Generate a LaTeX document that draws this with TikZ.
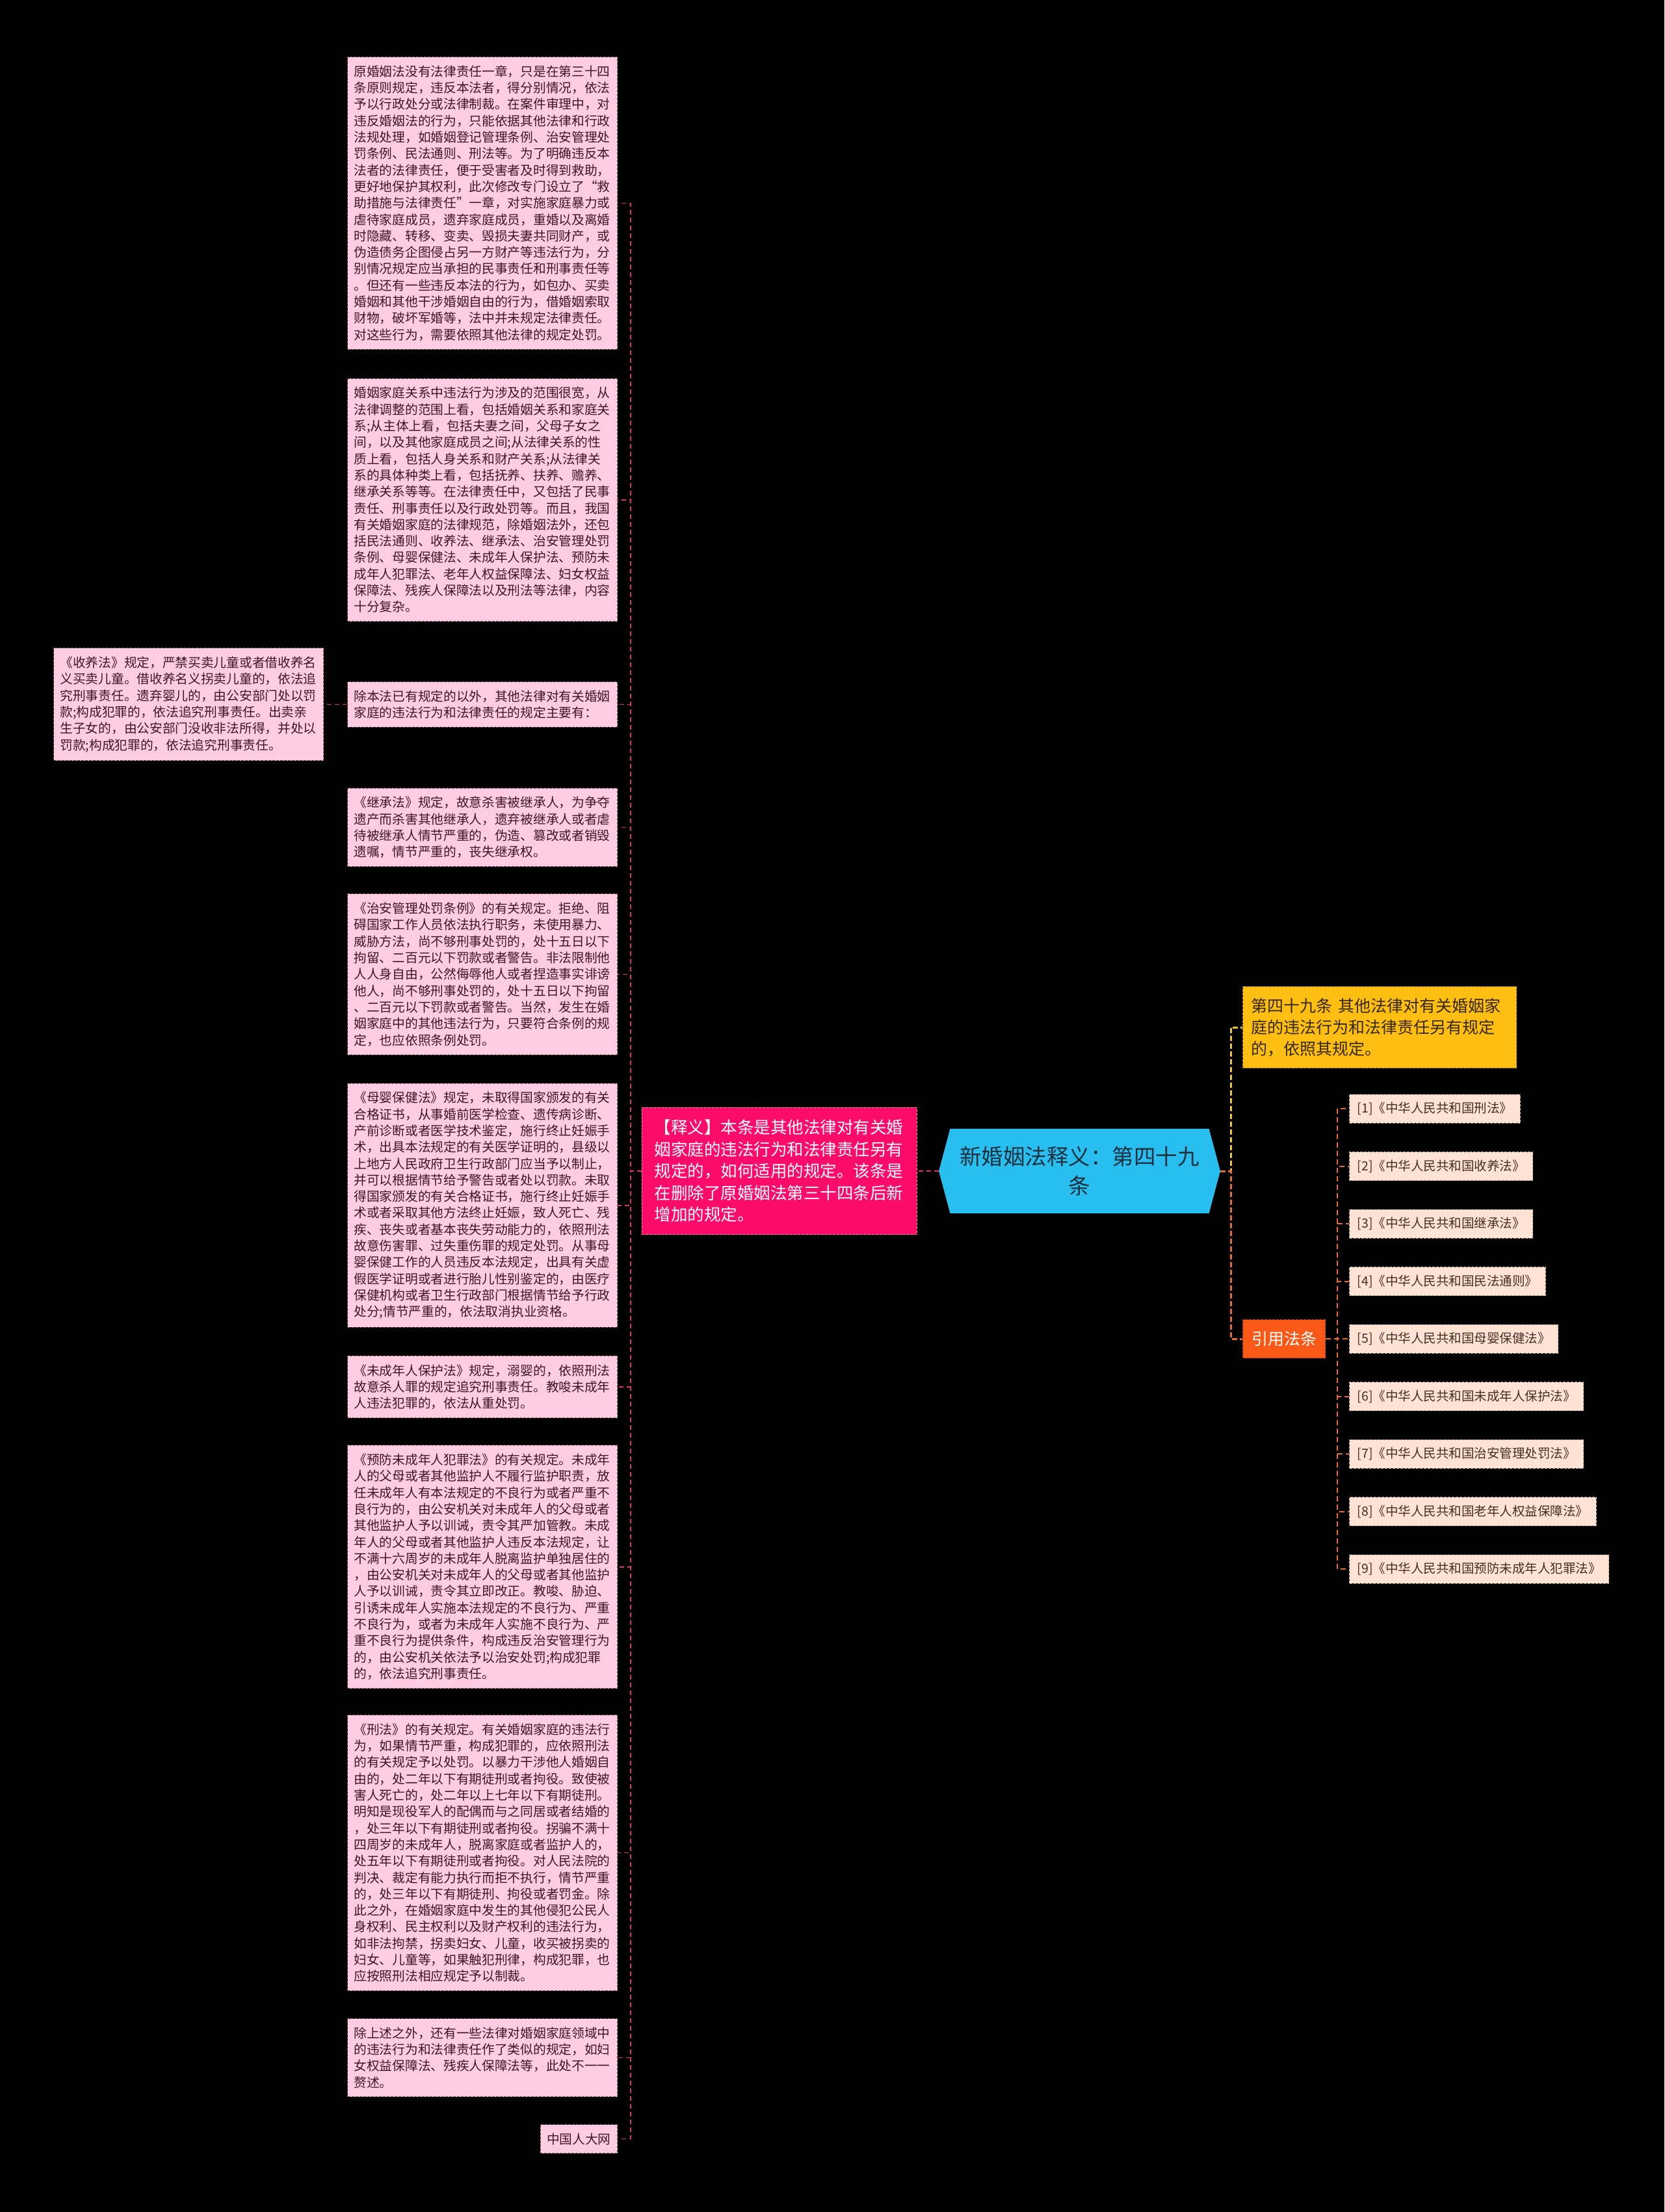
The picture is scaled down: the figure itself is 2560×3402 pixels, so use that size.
\documentclass[tikz,border=0pt]{standalone}
\usepackage{fontspec}
\setmainfont{Noto Sans CJK SC}
\usetikzlibrary{positioning, shapes.symbols}
\definecolor{colBg}{RGB}{0,0,0}
\definecolor{colLeaf}{RGB}{255,204,226}
\definecolor{colLeafText}{RGB}{62,22,40}
\definecolor{colLeafBorder}{RGB}{120,85,100}
\definecolor{colNote}{RGB}{250,12,104}
\definecolor{colNoteBorder}{RGB}{255,120,170}
\definecolor{colRoot}{RGB}{41,190,240}
\definecolor{colRootText}{RGB}{28,48,62}
\definecolor{colLaw}{RGB}{253,190,18}
\definecolor{colLawText}{RGB}{55,40,15}
\definecolor{colCite}{RGB}{250,88,22}
\definecolor{colRef}{RGB}{252,227,212}
\definecolor{colRefText}{RGB}{70,45,35}
\definecolor{colRefBorder}{RGB}{190,160,150}
\definecolor{colLinkL}{RGB}{225,45,105}
\definecolor{colLinkY}{RGB}{242,200,40}
\definecolor{colLinkO}{RGB}{235,105,45}
\tikzset{
  box/.style={
    rectangle, line width=1pt, dash pattern=on 4pt off 2pt,
    align=left
  },
  leafBase/.style={
    box, fill=colLeaf, draw=colLeafBorder, text=colLeafText,
    font=\fontsize{19.7pt}{25.3pt}\selectfont,
    inner xsep=10pt, inner ysep=13pt
  },
  leaf/.style={
    leafBase, text width=395pt
  },
  noteBox/.style={
    box, fill=colNote, draw=colNoteBorder, text=white,
    font=\fontsize{25.5pt}{33.5pt}\selectfont,
    text width=384pt, inner xsep=19.5pt, inner ysep=19pt
  },
  rootBox/.style={
    signal, signal to=west and east, signal pointer angle=150,
    fill=colRoot, text=colRootText, align=center,
    font=\fontsize{33.5pt}{45pt}\selectfont,
    text width=372pt, minimum width=433pt, minimum height=130pt
  },
  lawBox/.style={
    box, fill=colLaw, draw=colLaw!70!black, text=colLawText,
    font=\fontsize{25pt}{33pt}\selectfont,
    text width=395pt, inner xsep=13pt, inner ysep=18pt
  },
  citeBox/.style={
    box, fill=colCite, draw=colCite!70!black, text=white,
    font=\fontsize{25pt}{30pt}\selectfont,
    inner xsep=13.5pt, minimum height=59pt
  },
  refBox/.style={
    box, fill=colRef, draw=colRefBorder, text=colRefText,
    font=\fontsize{19.5pt}{24pt}\selectfont,
    inner xsep=12pt, minimum height=44pt
  },
  linkL/.style={
    draw=colLinkL, line width=1.6pt, dash pattern=on 7pt off 5pt
  },
  linkY/.style={
    draw=colLinkY, line width=3pt, dash pattern=on 8pt off 4pt
  },
  linkO/.style={
    draw=colLinkO, line width=3pt, dash pattern=on 8pt off 4pt
  },
  linkR/.style={
    draw=colLinkO, line width=2pt, dash pattern=on 8pt off 5pt
  }
}

\begin{document}
\begin{tikzpicture}[x=1pt, y=-1pt]

\fill[colBg] (0,0) rectangle (2560,3402);
\useasboundingbox (0,0) rectangle (2560,3402);

%% ==============================================================
%% Centre
%% ==============================================================

\node[rootBox] (root) at (1660.5,1801) {新婚姻法释义：第四十九\\条};

\node[noteBox, left=33pt of root] (shiyi) {
  【释义】本条是其他法律对有关婚\\
  姻家庭的违法行为和法律责任另有\\
  规定的，如何适用的规定。该条是\\
  在删除了原婚姻法第三十四条后新\\
  增加的规定。
};

%% ==============================================================
%% Left column
%% ==============================================================

\node[leaf, anchor=north east] (b1) at (950,87) {
  原婚姻法没有法律责任一章，只是在第三十四\\
  条原则规定，违反本法者，得分别情况，依法\\
  予以行政处分或法律制裁。在案件审理中，对\\
  违反婚姻法的行为，只能依据其他法律和行政\\
  法规处理，如婚姻登记管理条例、治安管理处\\
  罚条例、民法通则、刑法等。为了明确违反本\\
  法者的法律责任，便于受害者及时得到救助，\\
  更好地保护其权利，此次修改专门设立了“救\\
  助措施与法律责任”一章，对实施家庭暴力或\\
  虐待家庭成员，遗弃家庭成员，重婚以及离婚\\
  时隐藏、转移、变卖、毁损夫妻共同财产，或\\
  伪造债务企图侵占另一方财产等违法行为，分\\
  别情况规定应当承担的民事责任和刑事责任等\\
  。但还有一些违反本法的行为，如包办、买卖\\
  婚姻和其他干涉婚姻自由的行为，借婚姻索取\\
  财物，破坏军婚等，法中并未规定法律责任。\\
  对这些行为，需要依照其他法律的规定处罚。
};

\node[leaf, below=44pt of b1] (b2) {
  婚姻家庭关系中违法行为涉及的范围很宽，从\\
  法律调整的范围上看，包括婚姻关系和家庭关\\
  系;从主体上看，包括夫妻之间，父母子女之\\
  间，以及其他家庭成员之间;从法律关系的性\\
  质上看，包括人身关系和财产关系;从法律关\\
  系的具体种类上看，包括抚养、扶养、赡养、\\
  继承关系等等。在法律责任中，又包括了民事\\
  责任、刑事责任以及行政处罚等。而且，我国\\
  有关婚姻家庭的法律规范，除婚姻法外，还包\\
  括民法通则、收养法、继承法、治安管理处罚\\
  条例、母婴保健法、未成年人保护法、预防未\\
  成年人犯罪法、老年人权益保障法、妇女权益\\
  保障法、残疾人保障法以及刑法等法律，内容\\
  十分复杂。
};

\node[leaf, below=92pt of b2] (b3) {
  除本法已有规定的以外，其他法律对有关婚姻\\
  家庭的违法行为和法律责任的规定主要有：
};

\node[leaf, left=36pt of b3] (sy) {
  《收养法》规定，严禁买卖儿童或者借收养名\\
  义买卖儿童。借收养名义拐卖儿童的，依法追\\
  究刑事责任。遗弃婴儿的，由公安部门处以罚\\
  款;构成犯罪的，依法追究刑事责任。出卖亲\\
  生子女的，由公安部门没收非法所得，并处以\\
  罚款;构成犯罪的，依法追究刑事责任。
};

\node[leaf, below=93pt of b3] (b4) {
  《继承法》规定，故意杀害被继承人，为争夺\\
  遗产而杀害其他继承人，遗弃被继承人或者虐\\
  待被继承人情节严重的，伪造、篡改或者销毁\\
  遗嘱，情节严重的，丧失继承权。
};

\node[leaf, below=41pt of b4] (b5) {
  《治安管理处罚条例》的有关规定。拒绝、阻\\
  碍国家工作人员依法执行职务，未使用暴力、\\
  威胁方法，尚不够刑事处罚的，处十五日以下\\
  拘留、二百元以下罚款或者警告。非法限制他\\
  人人身自由，公然侮辱他人或者捏造事实诽谤\\
  他人，尚不够刑事处罚的，处十五日以下拘留\\
  、二百元以下罚款或者警告。当然，发生在婚\\
  姻家庭中的其他违法行为，只要符合条例的规\\
  定，也应依照条例处罚。
};

\node[leaf, below=43pt of b5] (b6) {
  《母婴保健法》规定，未取得国家颁发的有关\\
  合格证书，从事婚前医学检查、遗传病诊断、\\
  产前诊断或者医学技术鉴定，施行终止妊娠手\\
  术，出具本法规定的有关医学证明的，县级以\\
  上地方人民政府卫生行政部门应当予以制止，\\
  并可以根据情节给予警告或者处以罚款。未取\\
  得国家颁发的有关合格证书，施行终止妊娠手\\
  术或者采取其他方法终止妊娠，致人死亡、残\\
  疾、丧失或者基本丧失劳动能力的，依照刑法\\
  故意伤害罪、过失重伤罪的规定处罚。从事母\\
  婴保健工作的人员违反本法规定，出具有关虚\\
  假医学证明或者进行胎儿性别鉴定的，由医疗\\
  保健机构或者卫生行政部门根据情节给予行政\\
  处分;情节严重的，依法取消执业资格。
};

\node[leaf, below=43pt of b6] (b7) {
  《未成年人保护法》规定，溺婴的，依照刑法\\
  故意杀人罪的规定追究刑事责任。教唆未成年\\
  人违法犯罪的，依法从重处罚。
};

\node[leaf, below=41pt of b7] (b8) {
  《预防未成年人犯罪法》的有关规定。未成年\\
  人的父母或者其他监护人不履行监护职责，放\\
  任未成年人有本法规定的不良行为或者严重不\\
  良行为的，由公安机关对未成年人的父母或者\\
  其他监护人予以训诫，责令其严加管教。未成\\
  年人的父母或者其他监护人违反本法规定，让\\
  不满十六周岁的未成年人脱离监护单独居住的\\
  ，由公安机关对未成年人的父母或者其他监护\\
  人予以训诫，责令其立即改正。教唆、胁迫、\\
  引诱未成年人实施本法规定的不良行为、严重\\
  不良行为，或者为未成年人实施不良行为、严\\
  重不良行为提供条件，构成违反治安管理行为\\
  的，由公安机关依法予以治安处罚;构成犯罪\\
  的，依法追究刑事责任。
};

\node[leaf, below=40pt of b8] (b9) {
  《刑法》的有关规定。有关婚姻家庭的违法行\\
  为，如果情节严重，构成犯罪的，应依照刑法\\
  的有关规定予以处罚。以暴力干涉他人婚姻自\\
  由的，处二年以下有期徒刑或者拘役。致使被\\
  害人死亡的，处二年以上七年以下有期徒刑。\\
  明知是现役军人的配偶而与之同居或者结婚的\\
  ，处三年以下有期徒刑或者拘役。拐骗不满十\\
  四周岁的未成年人，脱离家庭或者监护人的，\\
  处五年以下有期徒刑或者拘役。对人民法院的\\
  判决、裁定有能力执行而拒不执行，情节严重\\
  的，处三年以下有期徒刑、拘役或者罚金。除\\
  此之外，在婚姻家庭中发生的其他侵犯公民人\\
  身权利、民主权利以及财产权利的违法行为，\\
  如非法拘禁，拐卖妇女、儿童，收买被拐卖的\\
  妇女、儿童等，如果触犯刑律，构成犯罪，也\\
  应按照刑法相应规定予以制裁。
};

\node[leaf, below=42pt of b9] (b10) {
  除上述之外，还有一些法律对婚姻家庭领域中\\
  的违法行为和法律责任作了类似的规定，如妇\\
  女权益保障法、残疾人保障法等，此处不一一\\
  赘述。
};

\node[leafBase, below left=42pt and 0pt of b10.south east] (b11) {中国人大网};

%% ==============================================================
%% Right side
%% ==============================================================

\node[lawBox, above right=221pt and 34pt of root.east, anchor=west] (law) {
  第四十九条 其他法律对有关婚姻家\\
  庭的违法行为和法律责任另有规定\\
  的，依照其规定。
};

\node[citeBox, below right=258pt and 34pt of root.east, anchor=west] (cite) {引用法条};

\node[refBox, right=36pt of cite] (r5) {[5]《中华人民共和国母婴保健法》};
\node[refBox, above right=43.5pt and 0pt of r5.north west] (r4) {[4]《中华人民共和国民法通则》};
\node[refBox, above right=43.5pt and 0pt of r4.north west] (r3) {[3]《中华人民共和国继承法》};
\node[refBox, above right=43.5pt and 0pt of r3.north west] (r2) {[2]《中华人民共和国收养法》};
\node[refBox, above right=43.5pt and 0pt of r2.north west] (r1) {[1]《中华人民共和国刑法》};
\node[refBox, below right=43.5pt and 0pt of r5.south west] (r6) {[6]《中华人民共和国未成年人保护法》};
\node[refBox, below right=43.5pt and 0pt of r6.south west] (r7) {[7]《中华人民共和国治安管理处罚法》};
\node[refBox, below right=43.5pt and 0pt of r7.south west] (r8) {[8]《中华人民共和国老年人权益保障法》};
\node[refBox, below right=43.5pt and 0pt of r8.south west] (r9) {[9]《中华人民共和国预防未成年人犯罪法》};

%% ==============================================================
%%  Connectors
%% ==============================================================

% root to note, note to the left column
\draw[linkL] (root.west) -- (shiyi.east);
\coordinate[left=17pt of shiyi.west] (trunkL);
\foreach \i in {1,...,11}
  \draw[linkL] (shiyi.west) -- (trunkL) |- (b\i.east);
\draw[linkL] (b3.west) -- (sy.east);

% root to the right branches
\coordinate[right=16pt of root.east] (trunkR);
\draw[linkY] (root.east) -- (trunkR) |- (law.west);
\draw[linkO] (root.east) -- (trunkR) |- (cite.west);

% cited laws
\coordinate[right=18pt of cite.east] (trunkC);
\foreach \i in {1,...,9}
  \draw[linkR] (cite.east) -- (trunkC) |- (r\i.west);

\end{tikzpicture}
\end{document}
